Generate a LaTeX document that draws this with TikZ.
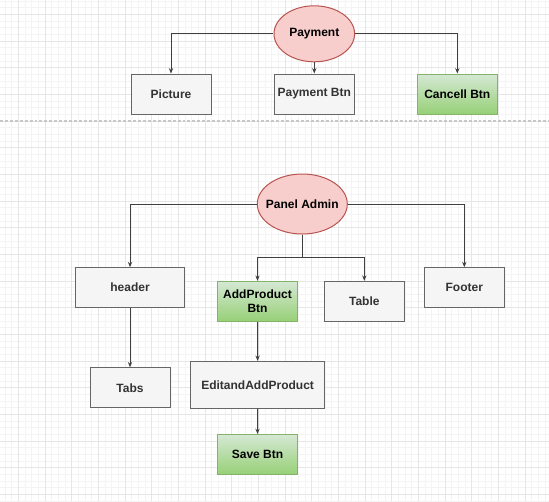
\documentclass[tikz,border=0pt]{standalone}
\usepackage{fontspec}
\setmainfont{Liberation Sans}
\usetikzlibrary{arrows.meta,shapes.geometric}
\definecolor{grayfill}{HTML}{F5F5F5}
\definecolor{graystroke}{HTML}{666666}
\definecolor{graytext}{HTML}{333333}
\definecolor{greentop}{HTML}{D5E8D4}
\definecolor{greenbot}{HTML}{97D077}
\definecolor{greenstroke}{HTML}{82B366}
\definecolor{redfill}{HTML}{F8CECC}
\definecolor{redstroke}{HTML}{B85450}
\definecolor{gridmajor}{HTML}{E6E6E6}
\definecolor{gridminor}{HTML}{F4F4F4}
\begin{document}
\begin{tikzpicture}[x=0.75pt,y=-0.75pt,
  every node/.style={font=\fontsize{9}{10.5}\selectfont\bfseries, inner sep=0pt, line width=0.75pt},
  graybox/.style={rectangle, draw=graystroke, fill=grayfill, text=graytext, minimum width=60pt, minimum height=30pt},
  greenbox/.style={rectangle, draw=greenstroke, top color=greentop, bottom color=greenbot, text=black, minimum width=60pt, minimum height=30pt, align=center},
  ellbox/.style={rectangle, text=black},
  redell/.style={draw=redstroke, fill=redfill, line width=0.75pt},
  conn/.style={draw=black!75, line width=0.75pt, -{Stealth[length=4pt,width=3.2pt]}},
  plain/.style={draw=black!75, line width=0.75pt}
]
\useasboundingbox (0,0) rectangle (549,501);
\fill[white] (0,0) rectangle (549,501);
% minor grid
\foreach \i in {0,...,82} \draw[gridminor, line width=0.5pt] ({5+\i*6.6667},0) -- ({5+\i*6.6667},501);
\foreach \i in {0,...,75} \draw[gridminor, line width=0.5pt] (0,{1+\i*6.6667}) -- (549,{1+\i*6.6667});
% major grid
\foreach \i in {0,...,20} \draw[gridmajor, line width=0.6pt] ({18.3+\i*26.6667},0) -- ({18.3+\i*26.6667},501);
\foreach \i in {0,...,18} \draw[gridmajor, line width=0.6pt] (0,{14.3+\i*26.6667}) -- (549,{14.3+\i*26.6667});
% separator
\draw[black!22, line width=1pt, dash pattern=on 2.2pt off 1.5pt] (0,121) -- (549,121);

% top part
\draw[redell] (314.3,33.8) ellipse [x radius=40.3, y radius=28];
\node[ellbox, minimum width=60.5pt, minimum height=42pt] (pay) at (314.3,33.8) {Payment};
\node[graybox] (pic) at (171,94) {Picture};
\node[graybox] (paybtn) at (314.3,94) {Payment Btn};
\node[greenbox] (cancel) at (457.3,94) {Cancell Btn};
\draw[conn] (pay.west) -| (pic.north);
\draw[conn] (pay.south) -- (paybtn.north);
\draw[conn] (pay.east) -| (cancel.north);

% bottom part
\draw[redell] (302.3,204) ellipse [x radius=45, y radius=30];
\node[ellbox, minimum width=67.5pt, minimum height=45pt] (admin) at (302.3,204) {Panel Admin};
\node[graybox, minimum width=81.5pt] (header) at (130,287.7) {header};
\node[greenbox] (addp) at (257.5,301.3) {AddProduct\\Btn};
\node[graybox] (table) at (364.3,301.3) {Table};
\node[graybox] (footer) at (464.3,287.7) {Footer};
\node[graybox] (tabs) at (130,387.8) {Tabs};
\node[graybox, minimum width=100.5pt, minimum height=35pt] (edit) at (257.6,384.7) {EditandAddProduct};
\node[greenbox] (save) at (257.5,454.5) {Save Btn};
\coordinate (split) at (302.3,257.5);
\draw[conn] (admin.west) -| (header.north);
\draw[conn] (admin.east) -| (footer.north);
\draw[plain] (admin.south) -- (split);
\draw[conn] (split) -| (addp.north);
\draw[conn] (split) -| (table.north);
\draw[conn] (header.south) -- (tabs.north);
\draw[conn] (addp.south) -- (edit.north);
\draw[conn] (edit.south) -- (save.north);
\end{tikzpicture}
\end{document}
